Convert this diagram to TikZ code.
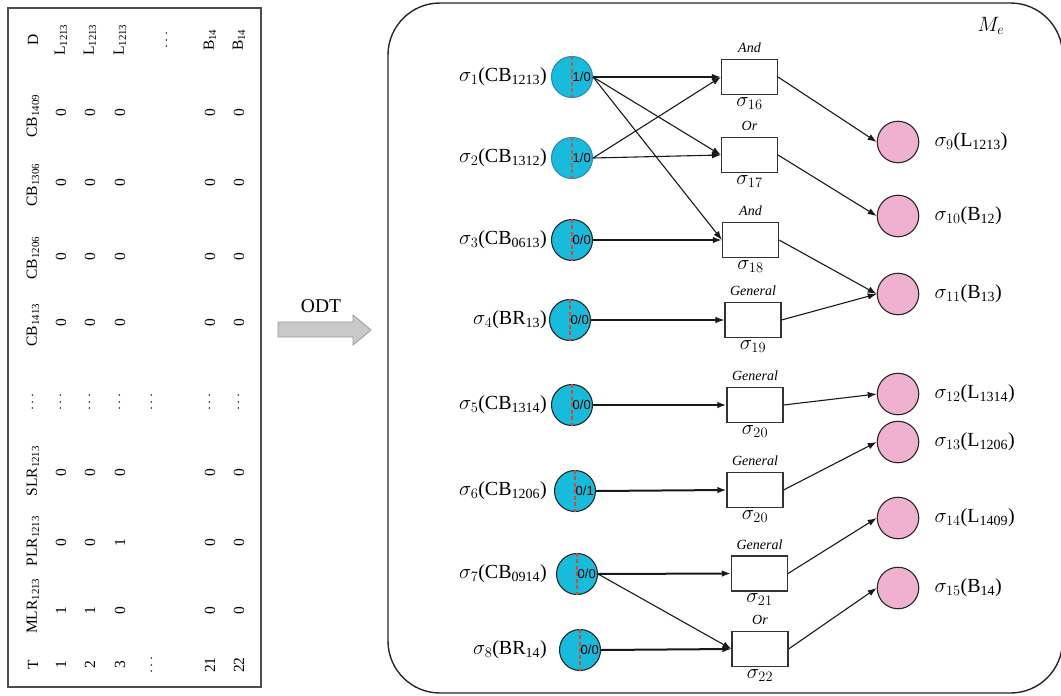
\documentclass[tikz,border=0pt]{standalone}
\usepackage{fontspec}
\setmainfont{Liberation Serif}
\setsansfont{Liberation Sans}
\usetikzlibrary{arrows.meta}
\definecolor{cyanfill}{HTML}{17BCDD}
\definecolor{blueedge}{HTML}{2A86C4}
\definecolor{pinkfill}{HTML}{F0B1D1}
\definecolor{dashred}{HTML}{E2452A}
\definecolor{dashbrown}{HTML}{B8604A}
\definecolor{arrowgray}{HTML}{C9C9C9}
\begin{document}
\begin{tikzpicture}[x=1pt,y=-1pt,
  tabtxt/.style={rotate=90, font=\fontsize{15.5}{18}\selectfont, inner sep=0pt},
  inplace/.style={circle, minimum size=41pt, inner sep=0pt, fill=cyanfill, draw=black!85, line width=1.1pt},
  inplaceb/.style={inplace, draw=blueedge},
  outplace/.style={circle, minimum size=41.5pt, inner sep=0pt, fill=pinkfill, draw=black!85, line width=1.1pt},
  trans/.style={rectangle, minimum width=56pt, minimum height=35pt, inner sep=0pt, draw=black!80, line width=1.1pt, fill=white},
  lab/.style={font=\fontsize{20}{23}\selectfont, inner sep=0pt},
  gate/.style={font=\fontsize{14}{16}\selectfont\itshape, inner sep=0pt, anchor=base},
  tok/.style={font=\sffamily\fontsize{13}{15}\selectfont, inner sep=0.5pt, anchor=west},
  redline/.style={dashed, dash pattern=on 4pt off 2.5pt, line width=1.1pt, draw=dashred},
  arr/.style={-{Latex[length=9pt,width=6.5pt]}, line width=1.1pt, draw=black!90},
  arrb/.style={arr, line width=2pt}
]
\useasboundingbox (0,0) rectangle (1061,696);
\clip (0,0) rectangle (1061,696);

% ---------------- left table ----------------
\draw[draw=black!70, line width=1.2pt] (8,8) rectangle (261,687);
\node[tabtxt] (hT) at (33,665) {T};
\node[tabtxt] (hM) at (33,606) {MLR\textsubscript{1213}};
\node[tabtxt] (hP) at (33,541) {PLR\textsubscript{1213}};
\node[tabtxt] (hS) at (33,471) {SLR\textsubscript{1213}};
\node[tabtxt] (hE) at (33,402) {$\cdots$};
\node[tabtxt] (hC1) at (33,325) {CB\textsubscript{1413}};
\node[tabtxt] (hC2) at (33,258) {CB\textsubscript{1206}};
\node[tabtxt] (hC3) at (33,185) {CB\textsubscript{1306}};
\node[tabtxt] (hC4) at (33,116) {CB\textsubscript{1409}};
\node[tabtxt] (hD) at (33,40) {D};
\foreach \x/\n/\a/\b/\d in {61/1/1/0/L\textsubscript{1213}, 90/2/1/0/L\textsubscript{1213}, 120/3/0/1/L\textsubscript{1213}, 210/21/0/0/B\textsubscript{14}, 239/22/0/0/B\textsubscript{14}} {
  \node[tabtxt] (T\n) at (\x,665) {\n};
  \node[tabtxt] (M\n) at (\x,611) {\a};
  \node[tabtxt] (P\n) at (\x,543) {\b};
  \node[tabtxt] (S\n) at (\x,473) {0};
  \node[tabtxt] (E\n) at (\x,402) {$\cdots$};
  \foreach \y [count=\k] in {323,257,183,113}
    \node[tabtxt] (C\n-\k) at (\x,\y) {0};
  \node[tabtxt] (D\n) at (\x,40) {\d};
}
\node[tabtxt] (Tdots) at (152,665) {$\cdots$};
\node[tabtxt] (Edots) at (152,402) {$\cdots$};
\node[tabtxt] (Ddots) at (167,40) {$\cdots$};

% ---------------- ODT arrow ----------------
\draw[fill=arrowgray, draw=black!40, line width=0.8pt]
  (278,322) -- (353,322) -- (353,315) -- (371,330) -- (353,345) -- (353,337) -- (278,337) -- cycle;
\node[font=\fontsize{19.5}{22}\selectfont, inner sep=0pt] (odt) at (321,306) {ODT};

% ---------------- right frame ----------------
\draw[draw=black!85, line width=1.4pt, rounded corners=52pt] (388,3) rectangle (1062.5,693);
\node[font=\fontsize{22}{25}\selectfont, inner sep=0pt] (me) at (991,26) {$M_e$};

% input places
\node[inplaceb] (p1) at (572,77) {};
\node[inplaceb] (p2) at (572,158) {};
\node[inplace] (p3) at (572,240) {};
\node[inplace] (p4) at (570,320) {};
\node[inplace] (p5) at (572,405) {};
\node[inplace] (p6) at (575,491) {};
\node[inplace] (p7) at (577,574) {};
\node[inplace] (p8) at (580,650) {};
\draw[redline, draw=dashbrown] (p1.north) -- (p1.south);
\draw[redline, draw=dashbrown] (p2.north) -- (p2.south);
\foreach \i in {3,...,8} \draw[redline] (p\i.north) -- (p\i.south);
\node[tok] (k1) at (p1.center) {1/0};
\node[tok] (k2) at (p2.center) {1/0};
\node[tok] (k3) at (p3.center) {0/0};
\node[tok] (k4) at (p4.center) {0/0};
\node[tok] (k5) at (p5.center) {0/0};
\node[tok] (k6) at (p6.center) {0/1};
\node[tok] (k7) at (p7.center) {0/0};
\node[tok] (k8) at (p8.center) {0/0};

\node[lab, anchor=east] (l1) at (547,0 |- p1) {$\sigma_{1}$(CB\textsubscript{1213})};
\node[lab, anchor=east] (l2) at (547,0 |- p2) {$\sigma_{2}$(CB\textsubscript{1312})};
\node[lab, anchor=east] (l3) at (547,0 |- p3) {$\sigma_{3}$(CB\textsubscript{0613})};
\node[lab, anchor=east] (l4) at (547,0 |- p4) {$\sigma_{4}$(BR\textsubscript{13})};
\node[lab, anchor=east] (l5) at (547,0 |- p5) {$\sigma_{5}$(CB\textsubscript{1314})};
\node[lab, anchor=east] (l6) at (547,0 |- p6) {$\sigma_{6}$(CB\textsubscript{1206})};
\node[lab, anchor=east] (l7) at (547,0 |- p7) {$\sigma_{7}$(CB\textsubscript{0914})};
\node[lab, anchor=east] (l8) at (547,0 |- p8) {$\sigma_{8}$(BR\textsubscript{14})};

% transitions
\node[trans] (t16) at (749.5,77) {};
\node[trans] (t17) at (749.5,155) {};
\node[trans] (t18) at (750.5,240) {};
\node[trans] (t19) at (753,320) {};
\node[trans] (t20a) at (755,405) {};
\node[trans] (t20b) at (755,490) {};
\node[trans] (t21) at (759.5,573.5) {};
\node[trans] (t22) at (760,649) {};
\node[gate] (g16) at ([yshift=6pt]t16.north) {And};
\node[gate] (g17) at ([yshift=6pt]t17.north) {Or};
\node[gate] (g18) at ([yshift=6pt]t18.north) {And};
\node[gate] (g19) at ([yshift=6pt]t19.north) {General};
\node[gate] (g20a) at ([yshift=6pt]t20a.north) {General};
\node[gate] (g20b) at ([yshift=6pt]t20b.north) {General};
\node[gate] (g21) at ([yshift=6pt]t21.north) {General};
\node[gate] (g22) at ([yshift=6pt]t22.north) {Or};
\node[lab, anchor=north] (s16) at ([yshift=-2pt]t16.south) {$\sigma_{16}$};
\node[lab, anchor=north] (s17) at ([yshift=-2pt]t17.south) {$\sigma_{17}$};
\node[lab, anchor=north] (s18) at ([yshift=-2pt]t18.south) {$\sigma_{18}$};
\node[lab, anchor=north] (s19) at ([yshift=-2pt]t19.south) {$\sigma_{19}$};
\node[lab, anchor=north] (s20a) at ([yshift=-2pt]t20a.south) {$\sigma_{20}$};
\node[lab, anchor=north] (s20b) at ([yshift=-2pt]t20b.south) {$\sigma_{20}$};
\node[lab, anchor=north] (s21) at ([yshift=-2pt]t21.south) {$\sigma_{21}$};
\node[lab, anchor=north] (s22) at ([yshift=-2pt]t22.south) {$\sigma_{22}$};

% output places
\node[outplace] (q9) at (898,142) {};
\node[outplace] (q10) at (898,216) {};
\node[outplace] (q11) at (898,294) {};
\node[outplace] (q12) at (898,394) {};
\node[outplace] (q13) at (898,442) {};
\node[outplace] (q14) at (898,518) {};
\node[outplace] (q15) at (898,588) {};
\node[lab, anchor=west] (l9) at ([xshift=15pt]q9.east) {$\sigma_{9}$(L\textsubscript{1213})};
\node[lab, anchor=west] (l10) at ([xshift=15pt]q10.east) {$\sigma_{10}$(B\textsubscript{12})};
\node[lab, anchor=west] (l11) at ([xshift=15pt]q11.east) {$\sigma_{11}$(B\textsubscript{13})};
\node[lab, anchor=west] (l12) at ([xshift=15pt]q12.east) {$\sigma_{12}$(L\textsubscript{1314})};
\node[lab, anchor=west] (l13) at ([xshift=15pt]q13.east) {$\sigma_{13}$(L\textsubscript{1206})};
\node[lab, anchor=west] (l14) at ([xshift=15pt]q14.east) {$\sigma_{14}$(L\textsubscript{1409})};
\node[lab, anchor=west] (l15) at ([xshift=15pt]q15.east) {$\sigma_{15}$(B\textsubscript{14})};

% arcs input -> transitions
\draw[arrb] (p1.east) -- (t16.west);
\draw[arr] (p1.east) -- (t17.west);
\draw[arr] (p1.east) -- (t18.west);
\draw[arr] (p2.east) -- (t16.west);
\draw[arr] (p2.east) -- (t17.west);
\draw[arrb] (p3.east) -- (t18.west);
\draw[arr] (p4.east) -- (t19.west);
\draw[arrb] (p5.east) -- (t20a.west);
\draw[arrb] (p6.east) -- (t20b.west);
\draw[arrb] (p7.east) -- (t21.west);
\draw[arr] (p7.east) -- (t22.west);
\draw[arrb] (p8.east) -- (t22.west);

% arcs transitions -> output
\draw[arr] (t16.east) -- (q9.west);
\draw[arr] (t17.east) -- (q10.west);
\draw[arr] (t18.east) -- (q11.west);
\draw[arr] (t19.east) -- (q11.west);
\draw[arr] (t20a.east) -- (q12.west);
\draw[arr] (t20b.east) -- (q13.west);
\draw[arr] (t21.east) -- (q14.west);
\draw[arr] (t22.east) -- (q15.west);
\end{tikzpicture}
\end{document}
